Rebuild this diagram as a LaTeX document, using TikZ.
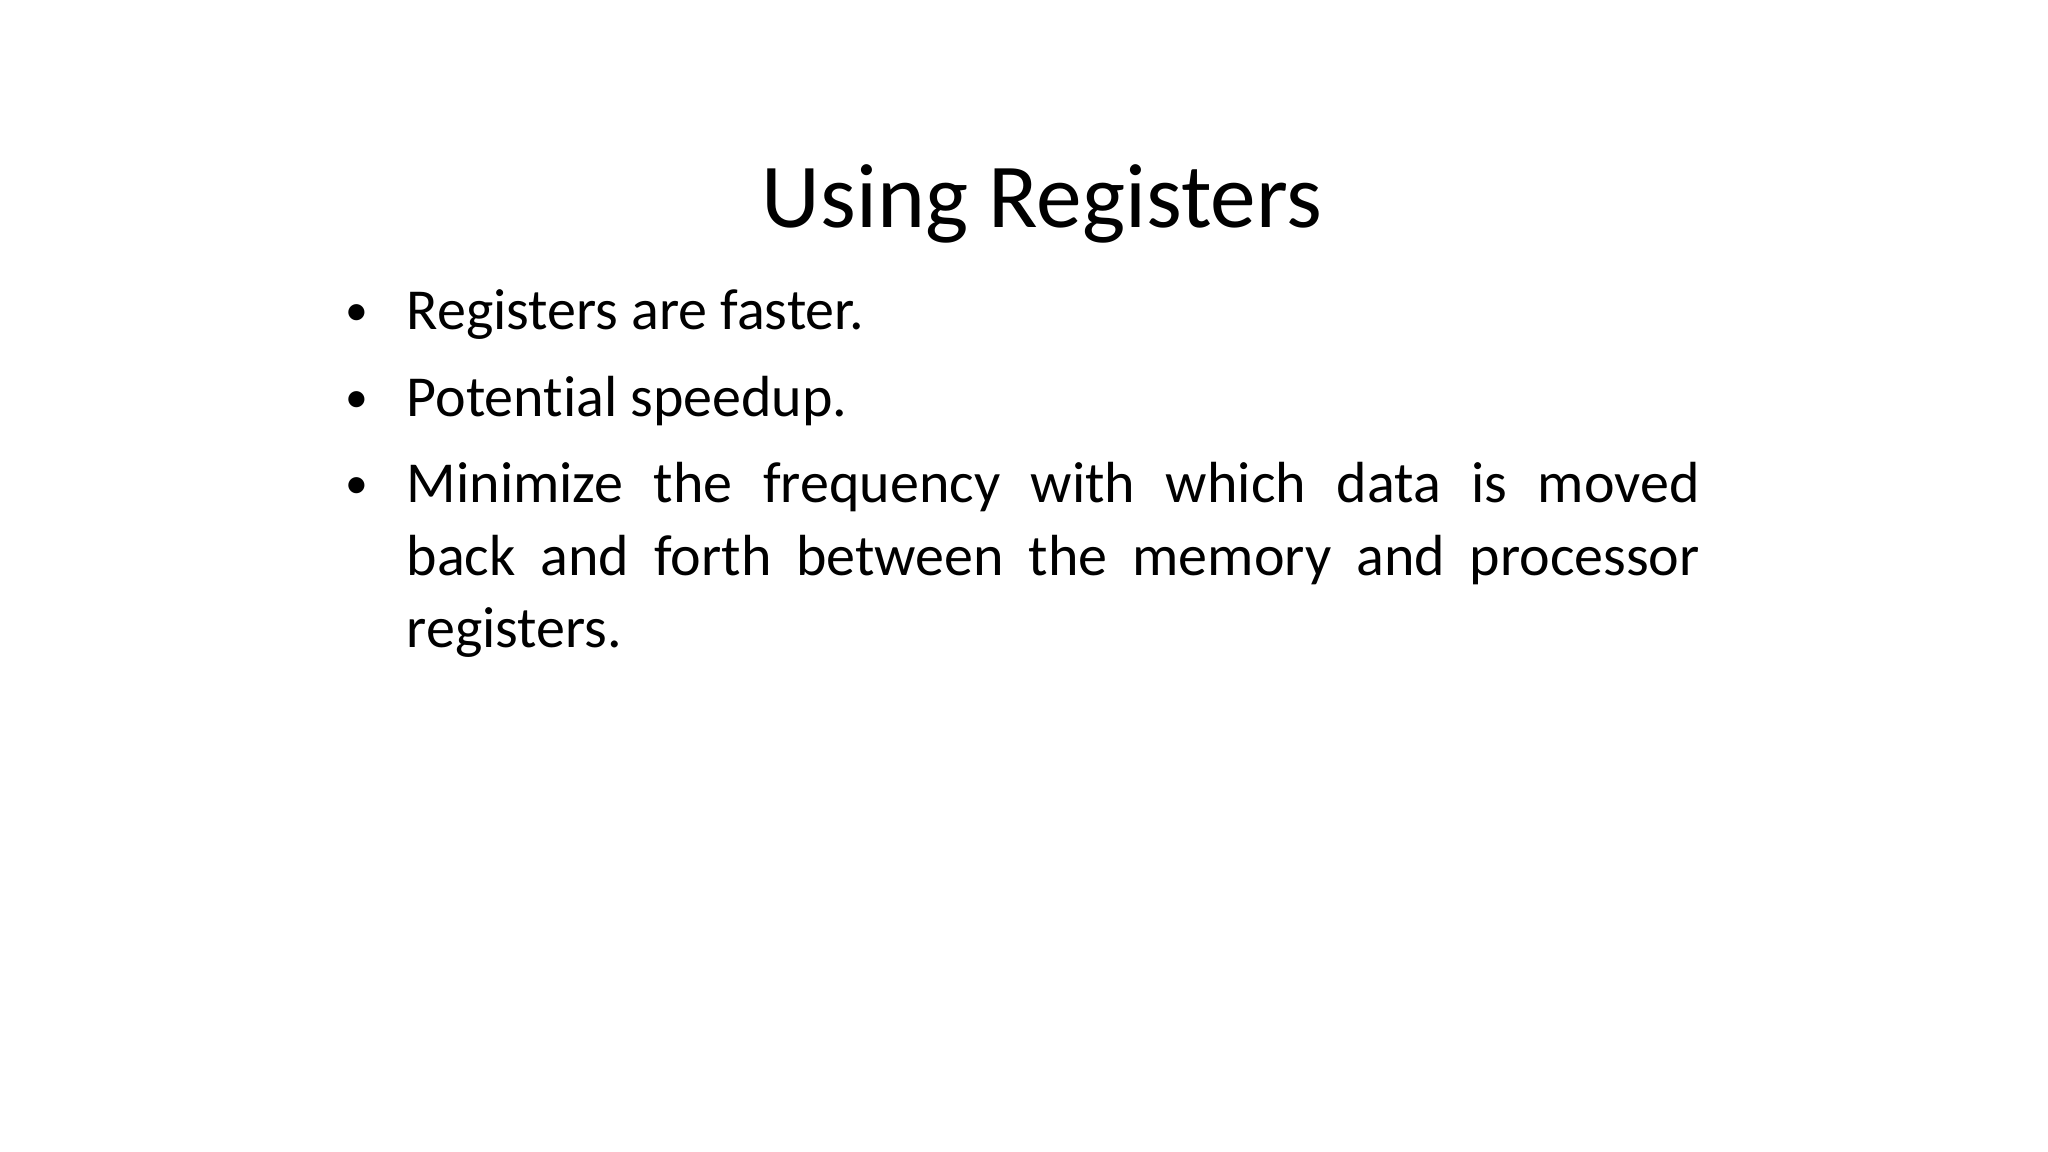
\documentclass[tikz,border=0pt]{standalone}
\usepackage{fontspec}
\setmainfont[Ligatures={NoCommon}]{Carlito}
\begin{document}
\begin{tikzpicture}[x=1cm,y=1cm,
  title/.style={font=\fontsize{26}{32}\selectfont, inner sep=0, anchor=base},
  body/.style={font=\fontsize{16.5}{20.6}\selectfont, inner sep=0, anchor=base west},
  bul/.style={font=\fontsize{13}{16}\selectfont, inner sep=0, anchor=base}]
\useasboundingbox[fill=white] (0,0) rectangle (20.48,11.52);
\node[title] (t) at (10.42,9.24) {Using Registers};
\node[bul] (b1) at (3.57,8.26) {•};
\node[body] (l1) at (4.06,8.22) {Registers are faster.};
\node[bul] (b2) at (3.57,7.39) {•};
\node[body] (l2) at (4.06,7.35) {Potential speedup.};
\node[bul] (b3) at (3.57,6.53) {•};
\node[body, text width=12.93cm, align=justify] (l3) at (4.06,6.49) {Minimize the frequency with which data is moved\linebreak back and forth between the memory and processor\linebreak registers.};
\end{tikzpicture}
\end{document}
